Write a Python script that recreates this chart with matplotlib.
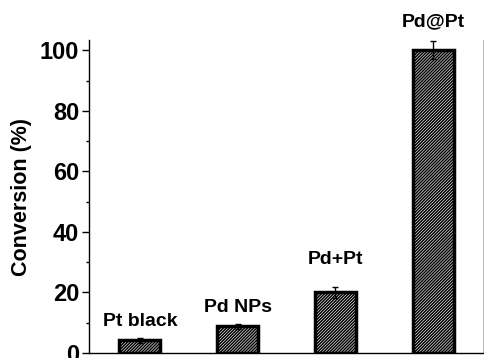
import matplotlib.pyplot as plt

samples = ["Pt black", "Pd NPs", "Pd+Pt", "Pd@Pt"]
conversion = [4.2, 8.8, 20.0, 100.0]
errors = [0.9, 0.8, 1.7, 3.0]
label_pad = [2.6, 2.5, 6.4, 3.6]  # gap between error bar and label, in %

plt.rcParams["font.family"] = "Liberation Sans"
plt.rcParams["font.weight"] = "bold"
plt.rcParams["hatch.linewidth"] = 1.1
plt.rcParams["hatch.color"] = "#222222"

fig = plt.figure(figsize=(4.84, 3.58), dpi=100)
ax = fig.add_axes([0.184, 0.014, 0.814, 0.874])

x = range(len(samples))
ax.bar(x, conversion, width=0.42, color="white", edgecolor="black",
       linewidth=2.5, hatch="/" * 11, zorder=2)
ax.errorbar(x, conversion, yerr=errors, fmt="none", ecolor="black",
            elinewidth=1, capsize=2.5, capthick=1, zorder=3)

for i, name in enumerate(samples):
    ax.text(i, conversion[i] + errors[i] + label_pad[i], name,
            ha="center", va="bottom", fontsize=14, fontweight="bold")

ax.set_xlim(-0.52, 3.51)
ax.set_ylim(0, 103.4)
ax.set_yticks([0, 20, 40, 60, 80, 100])
ax.set_yticks([10, 30, 50, 70, 90], minor=True)
ax.set_xticks([])
ax.tick_params(axis="y", which="major", length=5, width=1, labelsize=17, pad=2)
ax.tick_params(axis="y", which="minor", length=2.5, width=1)
for t in ax.get_yticklabels():
    t.set_fontweight("bold")
ax.set_ylabel("Conversion (%)", fontsize=15.5, fontweight="bold", labelpad=6)

ax.spines["top"].set_visible(False)
ax.spines["right"].set_color("#bbbbbb")
ax.spines["left"].set_linewidth(1)
ax.spines["bottom"].set_linewidth(1)

fig.savefig("out.png", dpi=100)
